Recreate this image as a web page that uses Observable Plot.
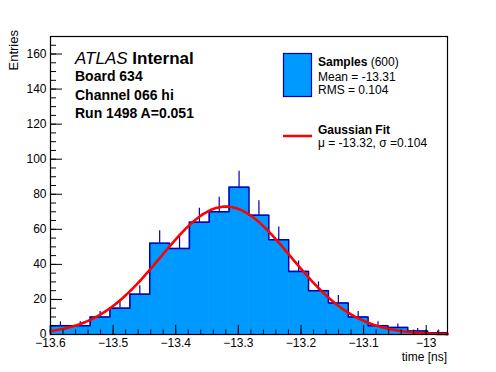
<!DOCTYPE html>
<html><head><meta charset="utf-8">
<script src="https://cdn.jsdelivr.net/npm/d3@7"></script>
<script src="https://cdn.jsdelivr.net/npm/@observablehq/plot@0.6"></script>
<style>
html,body{margin:0;padding:0;background:#fff;}
#chart{width:496px;height:372px;}
svg text{font-family:"Liberation Sans",Arial,Helvetica,sans-serif;}
</style></head><body><div id="chart"></div>
<script>
// ---- data ----
const histLow = -13.6;
const histHigh = -12.966;
const counts = [5, 5, 10, 15, 23, 52, 49, 64, 70, 84, 68, 54, 36, 25, 18, 10, 5, 4, 2, 1];
const xTicks = [-13.6, -13.5, -13.4, -13.3, -13.2, -13.1, -13.0];
const yTicks = [0, 20, 40, 60, 80, 100, 120, 140, 160];
const yMax = 170;
const nEntries = 600;
const sampleMean = -13.31;
const sampleRMS = 0.104;
const fitMu = -13.32;
const fitSigma = 0.104;
const infoLines = ["Board 634", "Channel 066 hi", "Run 1498 A=0.051"];

// ---- derived tables ----
const nBins = counts.length;
const binWidth = (histHigh - histLow) / nBins;
const bins = counts.map((c, i) => ({x1: histLow + i * binWidth, x2: histLow + (i + 1) * binWidth, y: c}));
const outline = [{x: histLow, y: 0}];
bins.forEach(b => { outline.push({x: b.x1, y: b.y}); outline.push({x: b.x2, y: b.y}); });
outline.push({x: histHigh, y: 0});
const amp = nEntries * binWidth / (fitSigma * Math.sqrt(2 * Math.PI));
const fitCurve = d3.range(0, 301).map(k => {
  const x = histLow + k * (histHigh - histLow) / 300;
  return {x, y: amp * Math.exp(-0.5 * ((x - fitMu) / fitSigma) ** 2)};
});
const xMinor = d3.range(0, 32).map(k => histLow + 0.02 * k);
const yMinor = d3.range(0, 35).map(k => 5 * k);

const W = 496, H = 372;
const mL = 50, mR = 49, mT = 36, mB = 38;
const plotW = W - mL - mR, plotH = H - mT - mB;
const fillBlue = "#0099ff", lineBlue = "#0000aa";

const svg = Plot.plot({
  width: W, height: H,
  marginLeft: mL, marginRight: mR, marginTop: mT, marginBottom: mB,
  style: {fontFamily: '"Liberation Sans", Arial, Helvetica, sans-serif', background: "white", color: "black"},
  x: {domain: [histLow, histHigh]},
  y: {domain: [0, yMax]},
  marks: [
    Plot.rectY(bins, {x1: "x1", x2: "x2", y: "y", fill: fillBlue, inset: 0, stroke: fillBlue, strokeWidth: 0.6}),
    Plot.ruleX(bins, {x: d => (d.x1 + d.x2) / 2, y1: "y", y2: d => d.y + Math.sqrt(d.y), stroke: lineBlue, strokeWidth: 1.2}),
    Plot.line(outline, {x: "x", y: "y", stroke: lineBlue, strokeWidth: 1.5}),
    Plot.line(fitCurve, {x: "x", y: "y", stroke: "#ff0000", strokeWidth: 2.6}),
    Plot.ruleX(xTicks, {insetTop: plotH - 9, stroke: "black"}),
    Plot.ruleX(xMinor, {insetTop: plotH - 4.5, stroke: "black"}),
    Plot.ruleY(yTicks, {insetRight: plotW - 12, stroke: "black"}),
    Plot.ruleY(yMinor, {insetRight: plotW - 6, stroke: "black"}),
    Plot.frame({stroke: "black", strokeWidth: 1.2}),
    Plot.axisX(xTicks, {tickSize: 0, tickPadding: 4, fontSize: 12, label: null, tickFormat: d3.format("")}),
    Plot.axisY(yTicks, {tickSize: 0, tickPadding: 4, fontSize: 12, label: null})
  ]
});
document.getElementById("chart").appendChild(svg);

const s = d3.select(svg);
const font = '"Liberation Sans", Arial, Helvetica, sans-serif';
function txt(x, y, size) {
  return s.append("text").attr("x", x).attr("y", y).attr("font-size", size)
    .attr("font-family", font).attr("fill", "black").attr("text-anchor", "start");
}
// axis titles
txt(W - mR, 361, 12).attr("text-anchor", "end").text("time [ns]");
s.append("text").attr("transform", "translate(18,30) rotate(-90)").attr("text-anchor", "end")
  .attr("font-size", 13).attr("font-family", font).attr("fill", "black").text("Entries");

// ATLAS label block
const t0 = txt(75, 64, 17);
t0.append("tspan").attr("font-style", "italic").text("ATLAS");
t0.append("tspan").attr("font-weight", "bold").text(" Internal");
infoLines.forEach((l, i) => txt(75, 81 + i * 18.5, 14).attr("font-weight", "bold").text(l));

// legend
s.append("rect").attr("x", 283.5).attr("y", 53.5).attr("width", 28).attr("height", 43)
  .attr("fill", fillBlue).attr("stroke", lineBlue).attr("stroke-width", 1.2);
const l1 = txt(318, 66, 12);
l1.append("tspan").attr("font-weight", "bold").text("Samples");
l1.append("tspan").text(` (${nEntries})`);
txt(318, 80.5, 12).text(`Mean = ${sampleMean}`);
txt(318, 94, 12).text(`RMS = ${sampleRMS}`);
s.append("line").attr("x1", 283).attr("x2", 312).attr("y1", 136).attr("y2", 136)
  .attr("stroke", "#ff0000").attr("stroke-width", 2.5);
txt(318, 134, 12).attr("font-weight", "bold").text("Gaussian Fit");
txt(318, 146.5, 12).text(`μ = ${fitMu}, σ =${fitSigma}`);
</script></body></html>
